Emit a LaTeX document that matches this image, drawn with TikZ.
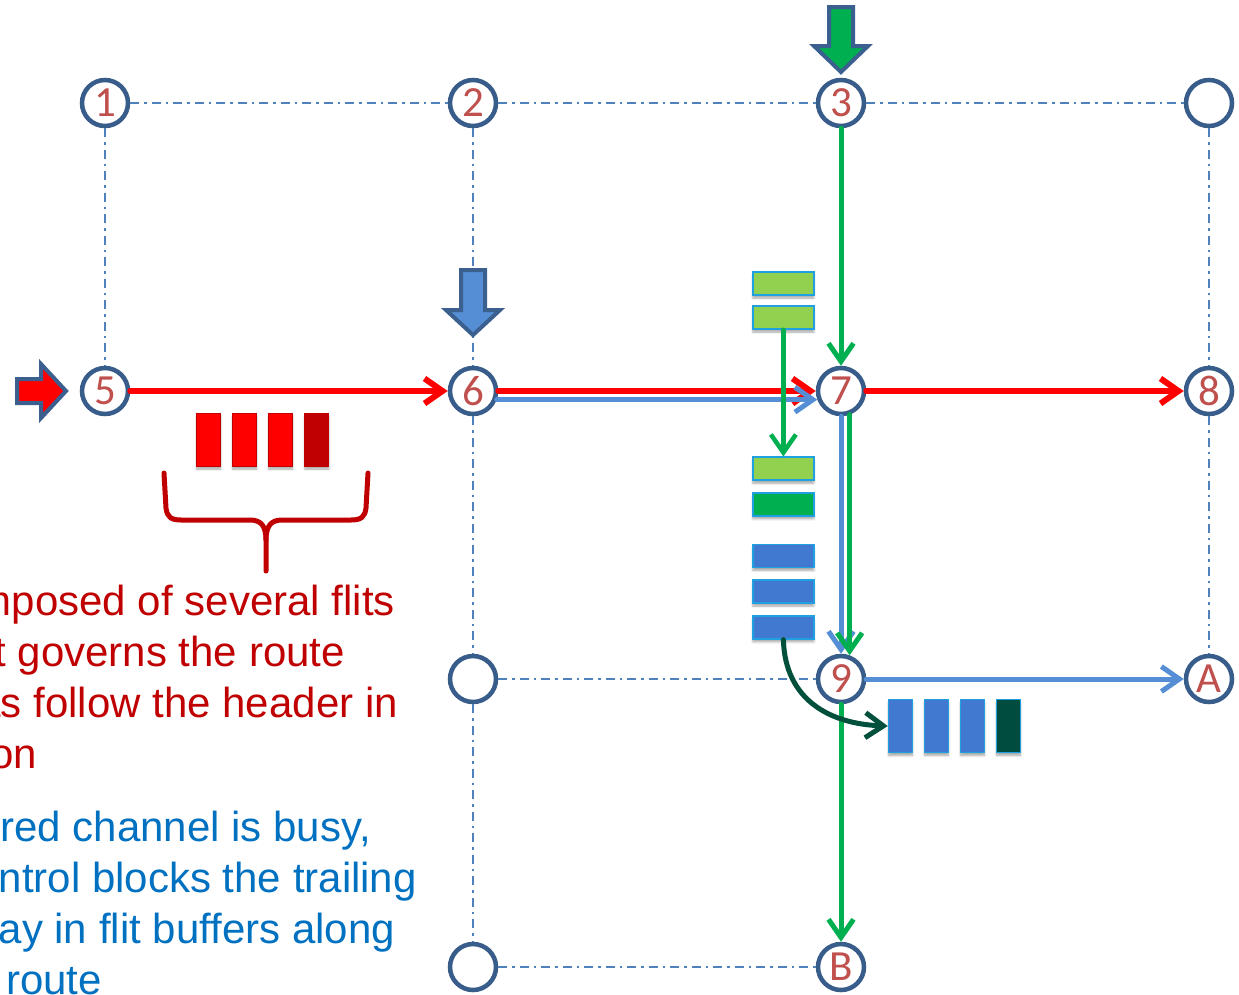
\documentclass[tikz,border=0pt]{standalone}
\usepackage{fontspec}
\setmainfont{Liberation Sans}
\newfontfamily\labelfont{Carlito}
\usetikzlibrary{arrows.meta,shadows.blur}

\definecolor{ringblue}{RGB}{56,93,138}
\definecolor{labelred}{RGB}{192,80,77}
\definecolor{gridblue}{RGB}{79,129,189}
\definecolor{pathred}{RGB}{255,0,0}
\definecolor{pathblue}{RGB}{85,142,213}
\definecolor{pathgreen}{RGB}{0,176,80}
\definecolor{lightgreen}{RGB}{146,208,80}
\definecolor{flitedge}{RGB}{30,160,225}
\definecolor{flitblue}{RGB}{66,121,208}
\definecolor{darkteal}{RGB}{0,77,64}
\definecolor{curvegreen}{RGB}{0,80,60}
\definecolor{darkred}{RGB}{192,0,0}
\definecolor{textblue}{RGB}{0,112,192}
\definecolor{outlineblue}{RGB}{59,95,143}

\tikzset{
  router/.style={circle, draw=ringblue, line width=4.5pt, fill=white,
    minimum size=46pt, inner sep=0pt, text=labelred,
    font=\labelfont\fontsize{43}{43}\selectfont},
  meshlink/.style={draw=gridblue, line width=2pt,
    dash pattern=on 9pt off 5pt on 2.5pt off 5pt},
  barb/.style={-{Straight Barb[length=18pt,width=25pt]},
    line cap=round, line join=round},
  redroute/.style={barb, draw=pathred, line width=6pt},
  blueroute/.style={barb, draw=pathblue, line width=5pt},
  greenroute/.style={barb, draw=pathgreen, line width=5pt},
  flitshadow/.style={blur shadow={shadow xshift=0pt, shadow yshift=-3pt,
    shadow blur steps=6, shadow opacity=35}},
  vflit/.style={rectangle, minimum width=24pt, minimum height=53pt,
    inner sep=0pt, line width=1pt, flitshadow},
  hflit/.style={rectangle, minimum width=61pt, minimum height=23pt,
    inner sep=0pt, line width=1.5pt, draw=flitedge, flitshadow},
  injector/.style={draw=outlineblue, line width=4pt, miter limit=10},
  redtext/.style={anchor=base east, inner sep=0pt, text=darkred,
    font=\fontsize{42}{51}\selectfont},
  bluetext/.style={redtext, text=textblue},
}

\begin{document}
\begin{tikzpicture}[x=1pt, y=-1pt]
\useasboundingbox (0,0) rectangle (1239,994);

% routers of the mesh
\node[router] (n1)  at (105,103)  {1};
\node[router] (n2)  at (473,103)  {2};
\node[router] (n3)  at (841,103)  {3};
\node[router] (n4)  at (1209,103) {};
\node[router] (n5)  at (105,391)  {5};
\node[router] (n6)  at (473,391)  {6};
\node[router] (n7)  at (841,391)  {7};
\node[router] (n8)  at (1209,391) {8};
\node[router] (n10) at (473,679)  {};
\node[router] (n9)  at (841,679)  {9};
\node[router] (nA)  at (1209,679) {A};
\node[router] (n13) at (473,967)  {};
\node[router] (nB)  at (841,967)  {B};

% idle mesh links
\path[meshlink] (n1) -- (n2)  (n2) -- (n3)  (n3) -- (n4)
  (n1) -- (n5)  (n2) -- (n6)  (n4) -- (n8)  (n8) -- (nA)
  (n6) -- (n10) (n10) -- (n13) (n10) -- (n9) (n13) -- (nB);

% injection points
\draw[injector, fill=pathred] (17,379) -- (41,379) -- (41,364) -- (66,391)
  -- (41,418) -- (41,403) -- (17,403) -- cycle;
\draw[injector, fill=pathblue] (461,270) -- (485,270) -- (485,310) -- (500,310)
  -- (473,335) -- (446,310) -- (461,310) -- cycle;
\draw[injector, fill=pathgreen] (829,7) -- (853,7) -- (853,46) -- (868,46)
  -- (841,72) -- (814,46) -- (829,46) -- cycle;

% routes of the three packets
\draw[redroute] (n5) -- (n6);
\draw[redroute] (n6) -- (n7);
\draw[redroute] (n7) -- (n8);
\draw[blueroute] (n6.-20) -- (n7.-160);
\draw[blueroute] (n7) -- (n9);
\draw[blueroute] (n9) -- (nA);
\draw[greenroute] (n3) -- (n7);
\draw[greenroute] (n7.-70) -- (n9.70);
\draw[greenroute] (n9) -- (nB);

% red packet: four flits
\node[vflit, fill=pathred, draw=darkred] (r1) at (208.7,439.5) {};
\node[vflit, fill=pathred, draw=darkred] (r2) at (244.7,439.5) {};
\node[vflit, fill=pathred, draw=darkred] (r3) at (280.7,439.5) {};
\node[vflit, fill=darkred, draw=darkred] (r4) at (316.9,439.5) {};

% brace under the red packet
\draw[darkred, line width=5pt, line cap=round, line join=round]
  (164,473) -- (166,508) .. controls (167,517) and (171,520) .. (181,520)
  -- (250,520) .. controls (261,520) and (266,526) .. (266,540) -- (266,571);
\draw[darkred, line width=5pt, line cap=round, line join=round]
  (368,473) -- (366,508) .. controls (365,517) and (361,520) .. (351,520)
  -- (282,520) .. controls (271,520) and (266,526) .. (266,540);

% green and blue flits buffered at router 7
\node[hflit, fill=lightgreen] (g1) at (783.4,283.5) {};
\node[hflit, fill=lightgreen] (g2) at (783.4,317.5) {};
\node[hflit, fill=lightgreen] (g3) at (783.4,468.7) {};
\node[hflit, fill=pathgreen]  (g4) at (783.4,504.4) {};
\node[hflit, fill=flitblue]   (b1) at (783.4,556) {};
\node[hflit, fill=flitblue]   (b2) at (783.4,591.5) {};
\node[hflit, fill=flitblue]   (b3) at (783.4,627.4) {};
\draw[greenroute, line width=4.5pt] (g2.south) -- (g3.north);

% blue flits leaving router 9
\node[vflit, fill=flitblue, draw=flitedge, line width=1.5pt] (h1) at (900.5,726) {};
\node[vflit, fill=flitblue, draw=flitedge, line width=1.5pt] (h2) at (936.5,726) {};
\node[vflit, fill=flitblue, draw=flitedge, line width=1.5pt] (h3) at (972.5,726) {};
\node[vflit, fill=darkteal, draw=flitedge, line width=1.5pt] (h4) at (1008.5,726) {};
\draw[barb, draw=curvegreen, line width=5pt]
  (b3.south) .. controls (785,700) and (830,724) .. (h1.west);

% explanatory text
\node[redtext] (t1) at (395,615) {composed of several flits};
\node[redtext] (t2) at (345,666) {flit governs the route};
\node[redtext] (t3) at (398,717) {flits follow the header in};
\node[redtext] (t4) at (37,768) {fashion};
\node[bluetext] (t5) at (371,841) {desired channel is busy,};
\node[bluetext] (t6) at (417,892) {control blocks the trailing};
\node[bluetext] (t7) at (395,943) {stay in flit buffers along};
\node[bluetext] (t8) at (102,994) {the route};
\end{tikzpicture}
\end{document}
